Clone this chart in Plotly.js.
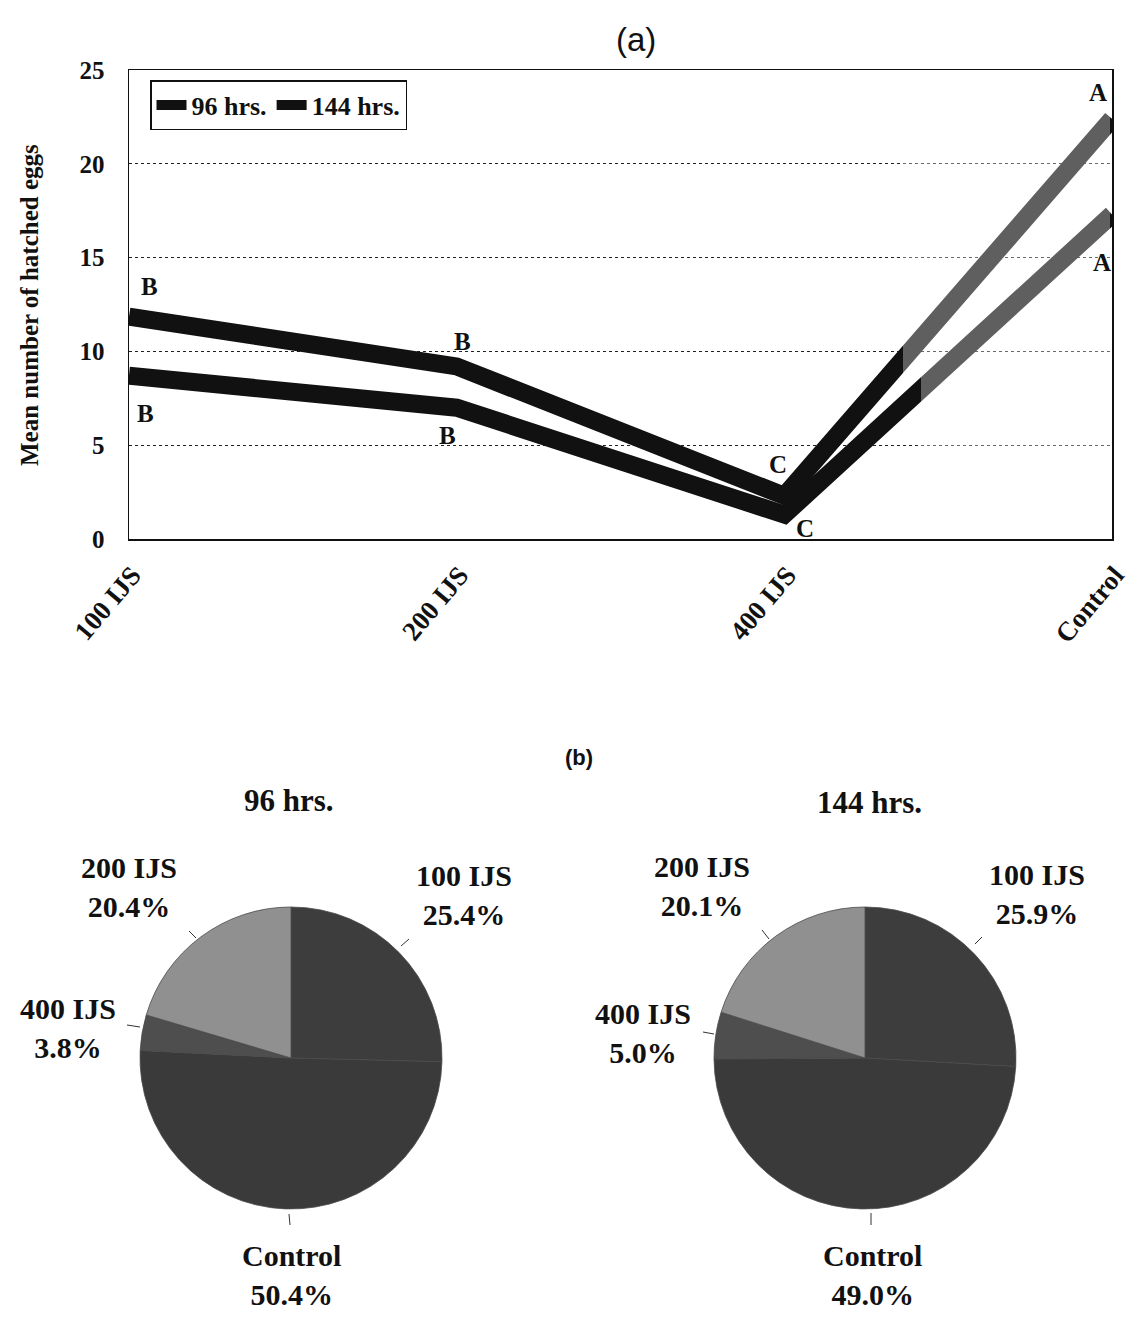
<!DOCTYPE html>
<html><head><meta charset="utf-8">
<script src="https://cdn.plot.ly/plotly-3.0.1.min.js"></script>
<style>body{margin:0;background:#fff}#chart{width:1148px;height:1321px}</style>
</head><body><div id="chart"></div>
<script>
// ---- data ----
const categories = ['100 IJS', '200 IJS', '400 IJS', 'Control'];
const hatched96 = [8.7, 7.0, 1.3, 17.3];
const hatched144 = [11.85, 9.2, 2.3, 22.4];
const letters96 = ['B', 'B', 'C', 'A'];
const letters144 = ['B', 'B', 'C', 'A'];
const yTicks = [0, 5, 10, 15, 20, 25];
const pieLabels = ['100 IJS', 'Control', '400 IJS', '200 IJS'];
const pie96 = [25.4, 50.4, 3.8, 20.4];
const pie144 = [25.9, 49.0, 5.0, 20.1];
const seriesNames = ['96 hrs.', '144 hrs.'];

// ---- layout helpers ----
const W = 1148, H = 1321;
const px = (x) => x / W;
const py = (y) => 1 - y / H;
const SERIF = 'Liberation Serif, Times New Roman, serif';
const SANS = 'Liberation Sans, Arial, sans-serif';
const serifBold = (s) => ({family: SERIF, size: s, color: '#111', weight: 'bold'});

const plotL = 129, plotR = 1112, plotT = 70, plotB = 539;

const traces = [
  {type: 'scatter', mode: 'lines', name: seriesNames[0], x: categories, y: hatched96,
   line: {color: '#111', width: 18}, xaxis: 'x', yaxis: 'y', hoverinfo: 'skip'},
  {type: 'scatter', mode: 'lines', name: seriesNames[1], x: categories, y: hatched144,
   line: {color: '#111', width: 18}, xaxis: 'x', yaxis: 'y', hoverinfo: 'skip'}
];

const pieColors = ['#3d3d3d', '#3a3a3a', '#4e4e4e', '#909090'];
function pieTrace(vals, cx) {
  const r = 151, cy = 1058;
  return {type: 'pie', labels: pieLabels, values: vals, sort: false, direction: 'clockwise',
    rotation: 0, textinfo: 'none', hoverinfo: 'skip', showlegend: false,
    marker: {colors: pieColors, line: {color: '#4a4a4a', width: 0.8}},
    domain: {x: [px(cx - r), px(cx + r)], y: [py(cy + r), py(cy - r)]}};
}
traces.push(pieTrace(pie96, 291));
traces.push(pieTrace(pie144, 865));

const annotations = [];
const paperNote = (x, y, text, font, extra) => Object.assign({x: px(x), y: py(y), xref: 'paper', yref: 'paper',
  text: text, showarrow: false, font: font, xanchor: 'center', yanchor: 'middle'}, extra || {});
// letter labels on line chart
const off96 = [[16, -38], [-9, -28], [21, -14], [-10, -48]];
const off144 = [[20, 30], [6, 25], [-6, 31], [-14, 26]];
categories.forEach((c, i) => {
  annotations.push({x: c, y: hatched96[i], xref: 'x', yref: 'y', text: letters96[i], showarrow: false,
    xanchor: 'center', yanchor: 'middle', xshift: off96[i][0], yshift: off96[i][1], font: serifBold(25)});
  annotations.push({x: c, y: hatched144[i], xref: 'x', yref: 'y', text: letters144[i], showarrow: false,
    xanchor: 'center', yanchor: 'middle', xshift: off144[i][0], yshift: off144[i][1], font: serifBold(25)});
});
// y-axis title
annotations.push(paperNote(30, 305, 'Mean number of hatched eggs', serifBold(25), {textangle: -90}));
// panel labels
annotations.push(paperNote(636, 40, '(a)', {family: SANS, size: 33, color: '#111'}));
annotations.push(paperNote(579, 757, '(b)', {family: SANS, size: 22, color: '#111', weight: 'bold'}));
// pie titles
annotations.push(paperNote(289, 800, seriesNames[0], serifBold(31)));
annotations.push(paperNote(869, 802, seriesNames[1], serifBold(31)));
// pie labels
const labelPos96 = [[464, 895], [291, 1275], [68, 1028], [129, 887]];
const labelPos144 = [[1037, 894], [872, 1275], [643, 1033], [702, 886]];
pieLabels.forEach((l, i) => {
  annotations.push(paperNote(labelPos96[i][0], labelPos96[i][1], l + '<br>' + pie96[i].toFixed(1) + '%', serifBold(30)));
  annotations.push(paperNote(labelPos144[i][0], labelPos144[i][1], l + '<br>' + pie144[i].toFixed(1) + '%', serifBold(30)));
});

const shapes = [];
// greyed final portion of the rising segments
shapes.push({type: 'rect', xref: 'paper', yref: 'paper', x0: px(903), x1: px(1110), y0: py(375), y1: py(71),
  fillcolor: 'rgba(255,255,255,0.33)', line: {width: 0}, layer: 'above'});
shapes.push({type: 'rect', xref: 'paper', yref: 'paper', x0: px(921), x1: px(1110), y0: py(538), y1: py(375),
  fillcolor: 'rgba(255,255,255,0.33)', line: {width: 0}, layer: 'above'});
// pie leader ticks
const leaders = [
  [189, 931, 196, 938], [401, 946, 409, 939], [127, 1025, 140, 1027], [289, 1214, 290, 1225],
  [762, 930, 769, 939], [975, 944, 982, 937], [703, 1032, 714, 1034], [871, 1213, 871, 1225]
];
leaders.forEach(l => shapes.push({type: 'line', xref: 'paper', yref: 'paper',
  x0: px(l[0]), y0: py(l[1]), x1: px(l[2]), y1: py(l[3]), line: {color: '#333', width: 1}}));

const layout = {
  width: W, height: H, margin: {l: 0, r: 0, t: 0, b: 0},
  paper_bgcolor: '#fff', plot_bgcolor: '#fff',
  xaxis: {domain: [px(plotL), px(plotR)], anchor: 'y', type: 'category', range: [0, 3],
    showline: true, mirror: true, linecolor: '#111', linewidth: 1.5, showgrid: false, zeroline: false,
    ticks: '', tickangle: -50, tickfont: serifBold(27), ticklabelstandoff: 8, ticklabelshift: 3},
  yaxis: {domain: [py(plotB), py(plotT)], anchor: 'x', range: [0, 25], tickvals: yTicks,
    showline: true, mirror: true, linecolor: '#111', linewidth: 1.5, zeroline: false,
    showgrid: true, gridcolor: '#222', griddash: 'dot', gridwidth: 1,
    ticks: '', tickfont: serifBold(25), ticklabelstandoff: 18},
  showlegend: true,
  legend: {orientation: 'h', x: px(150), y: py(80), xanchor: 'left', yanchor: 'top',
    bordercolor: '#111', borderwidth: 1.5, bgcolor: '#fff', font: serifBold(26),
    itemwidth: 30, tracegroupgap: 0},
  annotations: annotations, shapes: shapes
};

Plotly.newPlot('chart', traces, layout, {staticPlot: true});
</script>
</body></html>
